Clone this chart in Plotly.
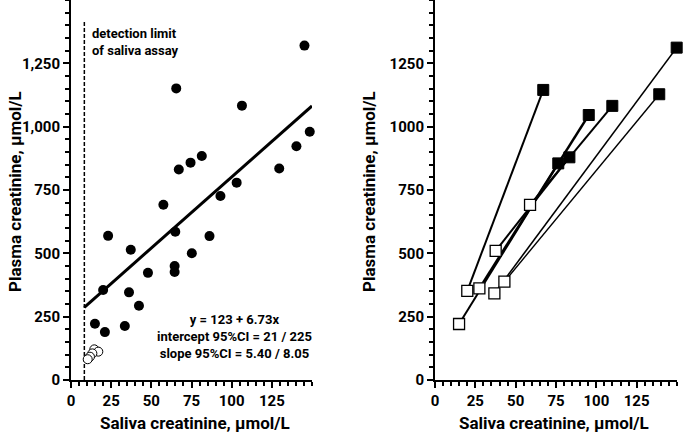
import plotly.graph_objects as go

# ---- Left panel data ----
saliva_filled = [145.3, 65.5, 106.4, 148.6, 140.3, 67.1, 74.4, 81.4, 129.6, 103.1, 93.0, 57.5,
                 23.1, 64.9, 86.2, 37.2, 75.2, 20.0, 47.9, 64.5, 64.5, 36.1, 42.3, 14.9, 21.1, 33.5]
plasma_filled = [1320, 1151, 1083, 980, 923, 831, 858, 884, 835, 779, 726, 692,
                 569, 585, 568, 514, 500, 355, 423, 450, 426, 346, 293, 222, 189, 213]
saliva_open = [14.5, 17.0, 13.3, 11.8, 10.4]
plasma_open = [121, 112, 105, 92, 82]
fit_x = [8.3, 150]
fit_y = [287, 1082]
detect_x = [8.3, 8.3]
detect_y = [0, 1420]

# ---- Right panel data (pairs: low open -> high filled) ----
pair_saliva_low = [20.0, 14.9, 27.5, 37.6, 58.9, 36.8, 43.0]
pair_plasma_low = [352, 221, 362, 510, 691, 342, 388]
pair_saliva_high = [67.1, 76.4, 95.3, 83.3, 109.9, 149.8, 139.0]
pair_plasma_high = [1145, 855, 1046, 879, 1082, 1312, 1128]
pair_width = [2, 2, 2.4, 2, 2, 1.6, 1.4]

x_ticks = [0, 25, 50, 75, 100, 125]
y_ticks = [0, 250, 500, 750, 1000, 1250]

FONT = "Roboto"

fig = go.Figure()

fig.add_trace(go.Scatter(x=detect_x, y=detect_y, mode="lines",
                         line=dict(color="black", width=1.5, dash="4px,2px"),
                         xaxis="x", yaxis="y", showlegend=False, hoverinfo="skip"))
fig.add_trace(go.Scatter(x=fit_x, y=fit_y, mode="lines",
                         line=dict(color="black", width=3),
                         xaxis="x", yaxis="y", showlegend=False))
fig.add_trace(go.Scatter(x=saliva_filled, y=plasma_filled, mode="markers", cliponaxis=False,
                         marker=dict(color="black", size=10),
                         xaxis="x", yaxis="y", showlegend=False))
fig.add_trace(go.Scatter(x=saliva_open, y=plasma_open, mode="markers", cliponaxis=False,
                         marker=dict(color="white", size=9, line=dict(color="black", width=1)),
                         xaxis="x", yaxis="y", showlegend=False))

for i in range(len(pair_saliva_low)):
    fig.add_trace(go.Scatter(x=[pair_saliva_low[i], pair_saliva_high[i]],
                             y=[pair_plasma_low[i], pair_plasma_high[i]], mode="lines",
                             line=dict(color="black", width=pair_width[i]),
                             xaxis="x2", yaxis="y2", showlegend=False))
fig.add_trace(go.Scatter(x=pair_saliva_high, y=pair_plasma_high, mode="markers", cliponaxis=False,
                         marker=dict(color="black", symbol="square", size=11,
                                     line=dict(color="black", width=1)),
                         xaxis="x2", yaxis="y2", showlegend=False))
fig.add_trace(go.Scatter(x=pair_saliva_low, y=pair_plasma_low, mode="markers", cliponaxis=False,
                         marker=dict(color="white", symbol="square", size=11,
                                     line=dict(color="black", width=1.3)),
                         xaxis="x2", yaxis="y2", showlegend=False))

tickfont = dict(family=FONT, size=15, color="black", weight="bold")
axis_common = dict(showline=True, linecolor="black", linewidth=2, ticks="outside",
                   ticklen=6, tickwidth=2, tickcolor="black", showgrid=False,
                   zeroline=False, tickfont=tickfont, fixedrange=True, automargin=False)

xa = dict(axis_common, range=[0, 150], tickvals=x_ticks,
          minor=dict(dtick=5, tick0=0, ticks="outside", ticklen=4, tickwidth=1.5, tickcolor="black"))
ya = dict(axis_common, range=[0, 1500], tickvals=y_ticks,
          minor=dict(dtick=50, tick0=0, ticks="outside", ticklen=4, tickwidth=1.5, tickcolor="black"))

fig.update_layout(
    width=685, height=436,
    margin=dict(l=71, r=8, t=0, b=56),
    paper_bgcolor="white", plot_bgcolor="white",
    xaxis=dict(xa, domain=[0, 0.3977], anchor="y"),
    yaxis=dict(ya, domain=[0, 1], anchor="x", tickformat=",d"),
    xaxis2=dict(xa, domain=[0.6007, 1], anchor="y2"),
    yaxis2=dict(ya, domain=[0, 1], anchor="x2", tickformat="d"),
    showlegend=False,
)

titlefont = dict(family=FONT, size=17, color="black", weight="bold")
notefont = dict(family=FONT, size=13, color="black", weight="bold")

annotations = [
    dict(text="Plasma creatinine, µmol/L", x=15, y=192, textangle=-90),
    dict(text="Plasma creatinine, µmol/L", x=369, y=192, textangle=-90),
    dict(text="Saliva creatinine, µmol/L", x=195, y=423, textangle=0),
    dict(text="Saliva creatinine, µmol/L", x=554, y=423, textangle=0),
]
for a in annotations:
    fig.add_annotation(text=a["text"], xref="paper", yref="paper",
                       x=(a["x"] - 71) / 606, y=(380 - a["y"]) / 380,
                       xanchor="center", yanchor="middle", textangle=a["textangle"],
                       showarrow=False, font=titlefont)

fig.add_annotation(text="detection limit<br>of saliva assay", xref="paper", yref="paper",
                   x=(90 - 71) / 606, y=(380 - 42) / 380, xanchor="left", yanchor="middle",
                   align="left", showarrow=False, font=notefont)
fig.add_annotation(text="y = 123 + 6.73x<br>intercept 95%CI = 21 / 225<br>slope 95%CI = 5.40 / 8.05",
                   xref="paper", yref="paper",
                   x=(234 - 71) / 606, y=(380 - 336) / 380, xanchor="center", yanchor="middle",
                   align="center", showarrow=False, font=notefont)

fig.write_html("out.html", config={"displayModeBar": False},
               post_script="document.body.style.margin='0';")
